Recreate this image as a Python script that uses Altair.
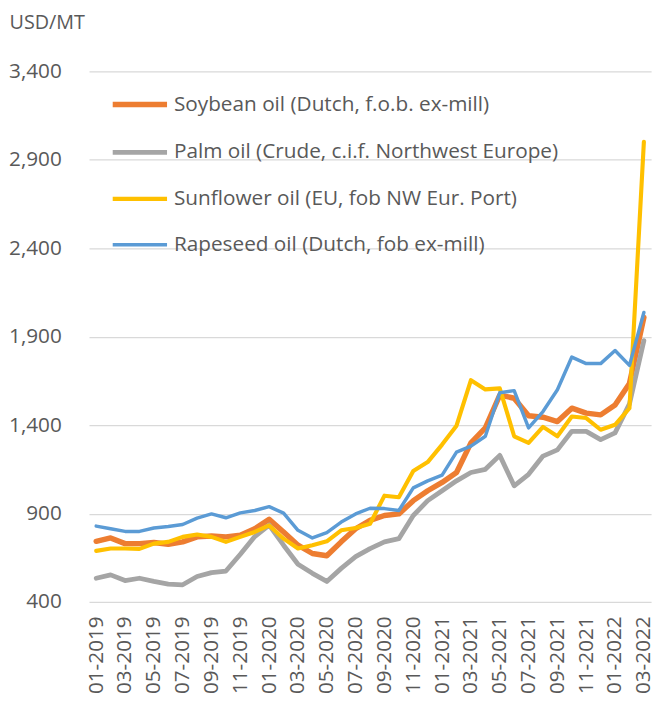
import altair as alt
import pandas as pd

months = [
    "01-2019", "02-2019", "03-2019", "04-2019", "05-2019", "06-2019", "07-2019", "08-2019",
    "09-2019", "10-2019", "11-2019", "12-2019", "01-2020", "02-2020", "03-2020", "04-2020",
    "05-2020", "06-2020", "07-2020", "08-2020", "09-2020", "10-2020", "11-2020", "12-2020",
    "01-2021", "02-2021", "03-2021", "04-2021", "05-2021", "06-2021", "07-2021", "08-2021",
    "09-2021", "10-2021", "11-2021", "12-2021", "01-2022", "02-2022", "03-2022",
]

series = [
    "Soybean oil (Dutch, f.o.b. ex-mill)",
    "Palm oil (Crude, c.i.f. Northwest Europe)",
    "Sunflower oil (EU, fob NW Eur. Port)",
    "Rapeseed oil (Dutch, fob ex-mill)",
]

soybean = [743, 762, 730, 730, 736, 726, 740, 768, 773, 768, 777, 814, 867, 796, 721, 674,
           661, 740, 814, 861, 889, 898, 973, 1029, 1076, 1132, 1300, 1384, 1570, 1552, 1453,
           1445, 1420, 1496, 1468, 1458, 1514, 1636, 2009]
palm = [534, 553, 521, 534, 516, 501, 497, 544, 566, 575, 670, 770, 835, 721, 613, 562,
        516, 590, 656, 702, 740, 758, 889, 973, 1029, 1085, 1132, 1150, 1229, 1057, 1122,
        1225, 1260, 1365, 1365, 1318, 1356, 1520, 1878]
sunflower = [689, 702, 702, 700, 730, 740, 768, 781, 768, 740, 768, 796, 833, 758, 702, 721,
             743, 805, 818, 842, 1001, 992, 1141, 1191, 1290, 1397, 1654, 1602, 1608, 1337,
             1300, 1390, 1337, 1449, 1440, 1374, 1402, 1496, 3002]
rapeseed = [829, 814, 799, 799, 818, 827, 838, 874, 898, 876, 904, 917, 939, 902, 805, 762,
            792, 852, 898, 930, 928, 917, 1045, 1085, 1117, 1247, 1281, 1337, 1583, 1595,
            1384, 1477, 1600, 1785, 1748, 1748, 1822, 1738, 2037]

y_ticks = [400, 900, 1400, 1900, 2400, 2900, 3400]
colors = ["#ED7D31", "#A5A5A5", "#FFC000", "#5B9BD5"]
widths = [5.5, 3.5, 3.5, 3.5]

rows = []
for name, vals in zip(series, [soybean, palm, sunflower, rapeseed]):
    for m, v in zip(months, vals):
        rows.append({"month": m, "value": v, "series": name})
df = pd.DataFrame(rows)

FONT = "Open Sans"
TXT = "#595959"

legend = alt.Legend(
    title=None,
    orient="none",
    legendX=21,
    legendY=3,
    symbolType="stroke",
    symbolSize=3025,
    labelFont=FONT,
    labelFontSize=21,
    labelColor=TXT,
    labelOffset=4,
    labelLimit=0,
    rowPadding=7,
    padding=0,
)

chart = alt.Chart(df).mark_line(strokeCap="round", strokeJoin="round").encode(
    x=alt.X(
        "month:O",
        sort=months,
        scale=alt.Scale(type="point", padding=0.5),
        axis=alt.Axis(
            values=months[::2],
            labelAngle=-90,
            labelAlign="right",
            labelBaseline="middle",
            labelFont=FONT,
            labelFontSize=21,
            labelColor=TXT,
            labelPadding=14,
            domain=False,
            ticks=False,
            grid=False,
            title=None,
        ),
    ),
    y=alt.Y(
        "value:Q",
        scale=alt.Scale(domain=[400, 3400], nice=False, zero=False),
        axis=alt.Axis(
            values=y_ticks,
            format=",.0f",
            grid=True,
            gridColor="#D9D9D9",
            gridWidth=1.3,
            domain=False,
            ticks=False,
            labelFont=FONT,
            labelFontSize=21,
            labelColor=TXT,
            labelPadding=28,
            title="USD/MT",
            titleAngle=0,
            titleAlign="left",
            titleBaseline="alphabetic",
            titleX=-81,
            titleY=-44,
            titleFont=FONT,
            titleFontSize=20,
            titleFontWeight="normal",
            titleColor=TXT,
        ),
    ),
    color=alt.Color(
        "series:N",
        sort=series,
        scale=alt.Scale(domain=series, range=colors),
        legend=legend,
    ),
    strokeWidth=alt.StrokeWidth(
        "series:N",
        sort=series,
        scale=alt.Scale(domain=series, range=widths),
        legend=legend,
    ),
).properties(
    width=569,
    height=537,
    autosize=alt.AutoSizeParams(type="none"),
    padding={"left": 82, "top": 60, "right": 7, "bottom": 96},
).configure_view(stroke=None)

chart.save("out.html", embed_options={"renderer": "svg", "actions": False})
